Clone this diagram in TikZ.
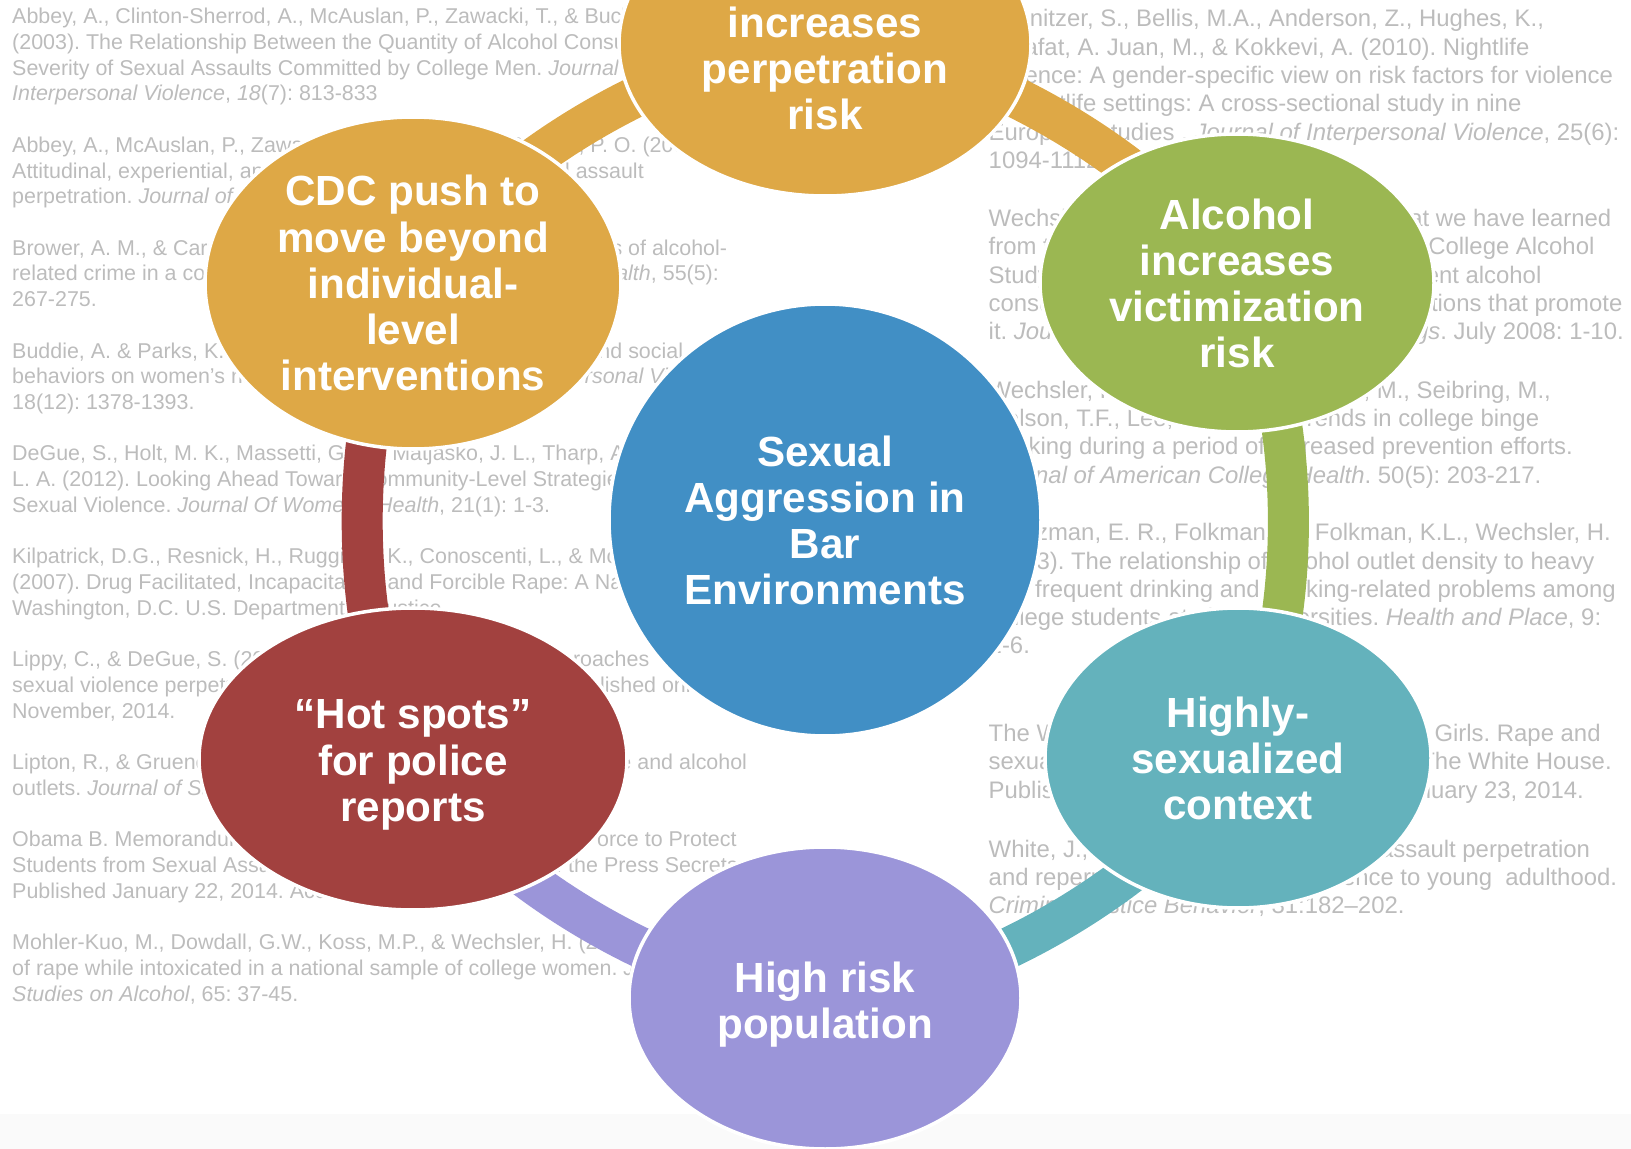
\documentclass[tikz,border=0pt]{standalone}
\usepackage{fontspec}
\setmainfont{Liberation Sans}
\usepackage{tikz}
\usetikzlibrary{shapes.geometric}
\definecolor{ringOrange}{RGB}{222,168,70}
\definecolor{ringGreen}{RGB}{155,183,82}
\definecolor{ringBlue}{RGB}{65,143,197}
\definecolor{ringRed}{RGB}{162,65,63}
\definecolor{ringTeal}{RGB}{100,178,188}
\definecolor{ringPurple}{RGB}{155,149,217}
\definecolor{refGray}{RGB}{188,188,188}
\definecolor{stripGray}{RGB}{250,250,250}
\pgfdeclarelayer{refs}
\pgfdeclarelayer{links}
\pgfsetlayers{refs,links,main}
\frenchspacing
\tikzset{
  bubble/.style={ellipse, draw=white, line width=1pt, inner sep=0pt, text=white,
    align=center, font=\fontsize{12}{13.1}\selectfont\bfseries},
  bubbletext/.style={inner sep=0pt, text=white, align=center,
    font=\fontsize{12}{13.1}\selectfont\bfseries},
  band/.style={line width=0.41cm},
  refL/.style={anchor=north west, inner sep=0pt, align=left, text=refGray,
    font=\fontsize{6.1}{7.31}\selectfont},
  refR/.style={anchor=north west, inner sep=0pt, align=left, text=refGray,
    font=\fontsize{6.8}{8.05}\selectfont}
}
\begin{document}
\begin{tikzpicture}
  \useasboundingbox (0,0) rectangle (16.31,-11.49);

  % Reference list behind the cycle
  \begin{pgfonlayer}{refs}
  \fill[stripGray] (0,-11.14) rectangle (16.31,-11.49);

  \node[refL] (abbeyA) at (0.115,-0.075) {Abbey, A., Clinton-Sherrod, A., McAuslan, P., Zawacki, T., \& Buck, P. O.\\
    (2003). The Relationship Between the Quantity of Alcohol Consumed and the\\
    Severity of Sexual Assaults Committed by College Men. \textit{Journal of}\\
    \textit{Interpersonal Violence}, \textit{18}(7): 813-833};
  \node[refL] (abbeyB) at (0.115,-1.361) {Abbey, A., McAuslan, P., Zawacki, T., Clinton, A. M., \& Buck, P. O. (2001).\\
    Attitudinal, experiential, and situational predictors of sexual assault\\
    perpetration. \textit{Journal of Interpersonal Violence}, 16:};
  \node[refL] (brower) at (0.115,-2.390) {Brower, A. M., \& Carroll, L. (2007). Spatial and temporal aspects of alcohol-\\
    related crime in a college town. \textit{Journal of American College Health}, 55(5):\\
    267-275.};
  \node[refL] (buddie) at (0.115,-3.419) {Buddie, A. \& Parks, K. A. (2003). The role of the bar context and social\\
    behaviors on women's risk for aggression. \textit{Journal of Interpersonal Violence},\\
    18(12): 1378-1393.};
  \node[refL] (degue) at (0.115,-4.447) {DeGue, S., Holt, M. K., Massetti, G. M., Matjasko, J. L., Tharp, A. T., \& Valle,\\
    L. A. (2012). Looking Ahead Toward Community-Level Strategies to Prevent\\
    Sexual Violence. \textit{Journal Of Women's Health}, 21(1): 1-3.};
  \node[refL] (kilpatrick) at (0.115,-5.476) {Kilpatrick, D.G., Resnick, H., Ruggiero, K., Conoscenti, L., \& McCauley, J.\\
    (2007). Drug Facilitated, Incapacitated, and Forcible Rape: A National Study.\\
    Washington, D.C. U.S. Department of Justice.};
  \node[refL] (lippy) at (0.115,-6.505) {Lippy, C., \& DeGue, S. (2014). Exploring alcohol policy approaches\\
    sexual violence perpetration. \textit{Trauma, Violence, \& Abuse}. Published online\\
    November, 2014.};
  \node[refL] (lipton) at (0.115,-7.534) {Lipton, R., \& Gruenewald, P. (2002). Spatial dynamics of violence and alcohol\\
    outlets. \textit{Journal of Studies on Alcohol}, 63(2): 187-195.};
  \node[refL] (obama) at (0.115,-8.305) {Obama B. Memorandum - Establishing a White House Task Force to Protect\\
    Students from Sexual Assault. The White House, Office of the Press Secretary.\\
    Published January 22, 2014. Accessed};
  \node[refL] (mohler) at (0.115,-9.334) {Mohler-Kuo, M., Dowdall, G.W., Koss, M.P., \& Wechsler, H. (2004). Correlates\\
    of rape while intoxicated in a national sample of college women. \textit{Journal of}\\
    \textit{Studies on Alcohol}, 65: 37-45.};

  \node[refR] (schnitzer) at (9.88,-0.089) {Schnitzer, S., Bellis, M.A., Anderson, Z., Hughes, K.,\\
    Calafat, A. Juan, M., \& Kokkevi, A. (2010). Nightlife\\
    violence: A gender-specific view on risk factors for violence\\
    in nightlife settings: A cross-sectional study in nine\\
    European studies . \textit{Journal of Interpersonal Violence}, 25(6):\\
    1094-1112.};
  \node[refR] (wechslerA) at (9.88,-2.086) {Wechsler, H. \& Nelson, T. F. (2008). What we have learned\\
    from the Harvard School of Public Health College Alcohol\\
    Study: Focusing attention on college student alcohol\\
    consumption and the environmental conditions that promote\\
    it. \textit{Journal of Studies on Alcohol and Drugs}. July 2008: 1-10.};
  \node[refR] (wechslerB) at (9.88,-3.802) {Wechsler, H., Lee, J.E.,\hspace{3.2em} Kuo, M., Seibring, M.,\\
    Nelson, T.F., Lee, H. (2002). Trends in college binge\\
    drinking during a period of increased prevention efforts.\\
    \textit{Journal of American College Health}. 50(5): 203-217.};
  \node[refR] (weitzman) at (9.88,-5.227) {Weitzman, E. R., Folkman, A., Folkman, K.L., Wechsler, H.\\
    (2003). The relationship of alcohol outlet density to heavy\\
    and frequent drinking and drinking-related problems among\\
    college students at eight universities. \textit{Health and Place}, 9:\\
    1-6.};
  \node[refR] (whitehouse) at (9.88,-7.235) {The White House Council on Women and Girls. Rape and\\
    sexual assault: A renewed call to action. The White House.\\
    Published online by the White House, January 23, 2014.};
  \node[refR] (white) at (9.88,-8.390) {White, J., \& Smith, P. (2004). Sexual assault perpetration\\
    and reperpetration: From adolescence to young\ \ adulthood.\\
    \textit{Criminal Justice Behavior}, 31:182--202.};
  \end{pgfonlayer}

  % Cycle of factors
  \node[bubble, fill=ringBlue, minimum width=4.32cm, minimum height=4.32cm] (core) at (8.25,-5.20)
    {Sexual\\Aggression in\\Bar\\Environments};
  \node[bubble, fill=ringOrange, minimum width=4.12cm, minimum height=3.04cm] (perp) at (8.25,-0.44) {};
  \node[bubbletext] (perptext) at (8.25,-0.68) {increases\\perpetration\\risk};
  \node[bubble, fill=ringGreen, minimum width=3.94cm, minimum height=2.98cm] (vict) at (12.37,-2.83)
    {Alcohol\\increases\\victimization\\risk};
  \node[bubble, fill=ringTeal, minimum width=3.86cm, minimum height=3.00cm] (sexctx) at (12.38,-7.58)
    {Highly-\\sexualized\\context};
  \node[bubble, fill=ringPurple, minimum width=3.92cm, minimum height=3.02cm] (highrisk) at (8.25,-9.98)
    {\rule{0pt}{12.4pt}High risk\\population};
  \node[bubble, fill=ringRed, minimum width=4.28cm, minimum height=3.02cm] (hotspot) at (4.13,-7.59)
    {\rule{0pt}{11.6pt}“Hot spots”\\for police\\reports};
  \node[bubble, fill=ringOrange, minimum width=4.16cm, minimum height=3.32cm] (cdc) at (4.13,-2.83)
    {CDC push to\\move beyond\\individual-\\level\\interventions};

  % Bands between neighbours, clockwise
  \begin{pgfonlayer}{links}
  \draw[band, ringOrange] (perp.center) to[bend left=30, looseness=0.73] (vict.center);
  \draw[band, ringGreen] (vict.center) to[bend left=30, looseness=0.73] (sexctx.center);
  \draw[band, ringTeal] (sexctx.center) to[bend left=30, looseness=0.73] (highrisk.center);
  \draw[band, ringPurple] (highrisk.center) to[bend left=30, looseness=0.73] (hotspot.center);
  \draw[band, ringRed] (hotspot.center) to[bend left=30, looseness=0.73] (cdc.center);
  \draw[band, ringOrange] (cdc.center) to[bend left=30, looseness=0.73] (perp.center);
  \end{pgfonlayer}
\end{tikzpicture}
\end{document}
